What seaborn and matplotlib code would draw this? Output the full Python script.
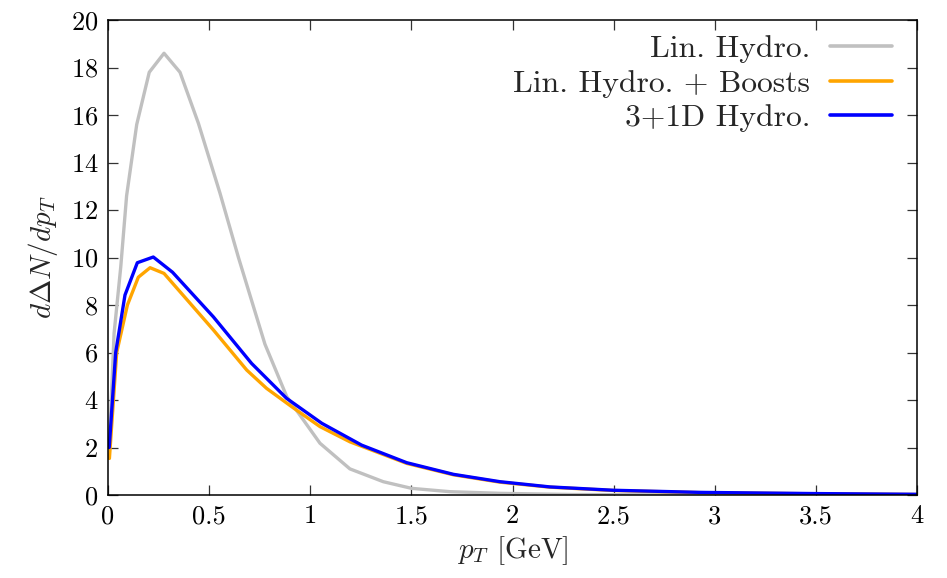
import matplotlib
matplotlib.use("Agg")
import matplotlib.pyplot as plt
import numpy as np
import pandas as pd
import seaborn as sns

# Spectra of the excess yield vs transverse momentum
pt_lin = [0.006, 0.030, 0.063, 0.092, 0.142, 0.204, 0.277, 0.356, 0.447, 0.554,
          0.645, 0.776, 0.884, 1.048, 1.196, 1.361, 1.501, 1.690, 1.940, 2.300,
          3.000, 4.000]
dn_lin = [2.0, 6.8, 9.6, 12.6, 15.6, 17.8, 18.6, 17.8, 15.65, 12.7,
          10.0, 6.35, 4.14, 2.18, 1.10, 0.56, 0.28, 0.14, 0.07, 0.02,
          0.0, 0.0]

pt_boost = [0.007, 0.043, 0.096, 0.150, 0.208, 0.277, 0.521, 0.686, 0.784, 0.908,
            1.048, 1.196, 1.477, 1.708, 1.938, 2.185, 2.498, 2.930, 3.500, 4.000]
dn_boost = [1.54, 6.0, 8.0, 9.17, 9.57, 9.33, 6.95, 5.26, 4.49, 3.72,
            2.88, 2.24, 1.33, 0.85, 0.54, 0.33, 0.19, 0.10, 0.05, 0.02]

pt_3d = [0.006, 0.038, 0.084, 0.145, 0.224, 0.319, 0.521, 0.710, 0.883, 1.057,
         1.254, 1.477, 1.708, 1.938, 2.185, 2.498, 2.930, 3.500, 4.000]
dn_3d = [2.0, 6.0, 8.42, 9.78, 10.02, 9.38, 7.5, 5.54, 4.07, 3.02,
         2.1, 1.36, 0.87, 0.56, 0.34, 0.20, 0.11, 0.06, 0.03]

labels = ["Lin. Hydro.", "Lin. Hydro. + Boosts", "3+1D Hydro."]
colors = ["#c0c0c0", "#ffa500", "#0000ff"]

df = pd.concat([
    pd.DataFrame({"pt": pt_lin, "dn": dn_lin, "model": labels[0]}),
    pd.DataFrame({"pt": pt_boost, "dn": dn_boost, "model": labels[1]}),
    pd.DataFrame({"pt": pt_3d, "dn": dn_3d, "model": labels[2]}),
], ignore_index=True)

sns.set_theme(style="ticks")
plt.rcParams["font.family"] = ["cmr10", "DejaVu Serif"]
plt.rcParams["mathtext.fontset"] = "cm"
plt.rcParams["axes.formatter.use_mathtext"] = True

fig = plt.figure(figsize=(9.47, 5.78), dpi=100)
ax = fig.add_axes([108 / 947, 1 - 495 / 578, (917 - 108) / 947, (495 - 20) / 578])

sns.lineplot(data=df, x="pt", y="dn", hue="model", hue_order=labels,
             palette=dict(zip(labels, colors)), sort=False, estimator=None,
             linewidth=2.4, ax=ax)

ax.set_xlim(0, 4)
ax.set_ylim(0, 20)
ax.set_xticks(np.arange(0, 4.01, 0.5))
ax.set_xticklabels(["0", "0.5", "1", "1.5", "2", "2.5", "3", "3.5", "4"])
ax.set_yticks(np.arange(0, 21, 2))
ax.tick_params(direction="in", length=7, width=0.9, top=True, right=True,
               labelsize=19, colors="#333333", labelcolor="black", pad=7)
for s in ax.spines.values():
    s.set_linewidth(1.1)
    s.set_color("black")

ax.set_xlabel(r"$p_T$ [GeV]", fontsize=21, labelpad=4)
ax.set_ylabel(r"$d\Delta N/dp_T$", fontsize=21, labelpad=8)

handles, labs = ax.get_legend_handles_labels()
leg = ax.legend(handles, labs, loc="upper right", frameon=False, markerfirst=False,
                fontsize=22.8, handlelength=1.95, handletextpad=0.63,
                labelspacing=0.2, borderpad=0, borderaxespad=0,
                bbox_to_anchor=(1 - 25 / 809, 1 - 15 / 475))
for t in leg.get_texts():
    t.set_ha("right")
leg._legend_box.align = "right"
for ln in leg.get_lines():
    ln.set_linewidth(2.6)

fig.savefig("out.png", dpi=100)
